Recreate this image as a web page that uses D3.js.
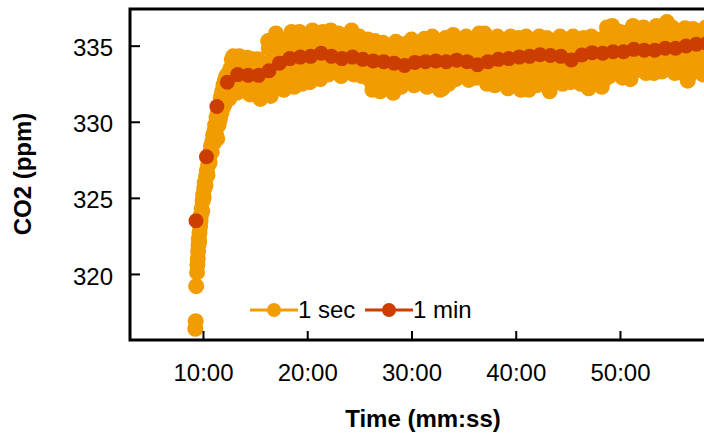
<!DOCTYPE html>
<html><head><meta charset="utf-8">
<script src="https://cdn.jsdelivr.net/npm/d3@7"></script>
<style>html,body{margin:0;padding:0;background:#fff;overflow:hidden}</style>
</head><body><svg id="c" width="704" height="436"></svg>
<script>
// ---- data ----
const seriesNames = ["1 sec", "1 min"];
const xTickLabels = ["10:00", "20:00", "30:00", "40:00", "50:00"];
const yTickValues = [320, 325, 330, 335];
const xTitle = "Time (mm:ss)";
const yTitle = "CO2 (ppm)";

// 1-second readings [seconds, ppm]
const oneSecRise = [
  [556,316.4],[558,316.9],[561,319.2],[566,320.1],[568,320.6],[570,321.0],[572,321.5],[574,321.9],
  [576,322.3],[578,322.1],[580,322.7],[583,323.1],[586,323.5],[589,323.9],[592,324.3],[595,324.1],
  [598,324.8],[601,325.2],[604,325.0],[607,325.6],[610,326.0],[614,325.8],[618,326.4],[622,326.8],
  [626,326.5],[630,327.2],[634,327.6],[638,327.3],[642,328.0],[646,328.4],[650,328.0],[654,328.7],
  [658,329.1],[662,328.6],[666,329.4],[670,329.8],[674,329.2],[678,330.3],[682,328.9],[686,330.6],
  [690,329.8],[694,331.0],[698,330.2],[702,331.6],[706,330.6],[710,332.0],[714,330.9],[718,332.4],
  [722,331.1],[726,332.7],[730,331.3],[734,333.0],[738,331.6],[742,332.3],[746,333.2],[750,331.5],
  [754,332.7],[758,333.5],[762,331.8],[766,334.1],[770,332.4],[774,334.3]
];
const oneSecPlateau = [
  [780,333.4],[795,331.9],[810,334.3],[825,332.6],
  [840,332.9],[855,334.2],[870,331.8],[885,333.6],
  [900,332.4],[915,334.1],[930,331.5],[945,333.3],
  [960,332.4],[975,335.3],[990,331.7],[1005,334.6],
  [1020,335.8],[1035,332.6],[1050,334.0],[1065,332.1],
  [1080,335.2],[1095,333.1],[1110,335.9],[1125,332.3],
  [1140,333.0],[1155,335.9],[1170,332.5],[1185,335.5],
  [1200,334.2],[1215,332.6],[1230,336.0],[1245,333.9],
  [1260,335.4],[1275,332.8],[1290,335.9],[1305,333.4],
  [1320,333.1],[1335,336.0],[1350,334.4],[1365,333.6],
  [1380,335.8],[1395,333.0],[1410,334.6],[1425,333.3],
  [1440,333.5],[1455,336.0],[1470,333.1],[1485,334.4],
  [1500,335.6],[1515,333.0],[1530,335.0],[1545,333.2],
  [1560,334.9],[1575,332.1],[1590,335.3],[1605,333.6],
  [1620,332.0],[1635,335.2],[1650,333.2],[1665,335.0],
  [1680,334.2],[1695,331.9],[1710,335.25],[1725,333.5],
  [1740,332.3],[1755,335.1],[1770,333.4],[1785,334.6],
  [1800,335.4],[1815,332.4],[1830,334.8],[1845,333.2],
  [1860,333.1],[1875,335.45],[1890,332.3],[1905,334.9],
  [1920,335.6],[1935,333.4],[1950,334.9],[1965,332.1],
  [1980,332.2],[1995,335.5],[2010,333.3],[2025,334.8],
  [2040,335.7],[2055,332.8],[2070,334.3],[2085,333.5],
  [2100,333.2],[2115,335.6],[2130,332.75],[2145,334.4],
  [2160,334.0],[2175,332.9],[2190,335.8],[2205,333.1],
  [2220,335.8],[2235,332.5],[2250,334.9],[2265,333.0],
  [2280,332.4],[2295,335.6],[2310,333.5],[2325,335.0],
  [2340,334.9],[2355,332.2],[2370,335.6],[2385,333.7],
  [2400,333.6],[2415,335.5],[2430,332.1],[2445,335.3],
  [2460,335.6],[2475,332.1],[2490,335.0],[2505,334.3],
  [2520,332.4],[2535,335.6],[2550,334.0],[2565,335.2],
  [2580,335.5],[2595,332.0],[2610,335.1],[2625,334.6],
  [2640,333.4],[2655,335.6],[2670,332.5],[2685,335.4],
  [2700,334.8],[2715,332.6],[2730,335.6],[2745,333.4],
  [2760,335.4],[2775,332.5],[2790,335.5],[2805,334.2],
  [2820,332.2],[2835,335.6],[2850,334.6],[2865,335.3],
  [2880,335.4],[2895,332.3],[2910,334.6],[2925,336.2],
  [2940,333.0],[2955,336.3],[2970,333.8],[2985,335.2],
  [3000,335.9],[3015,332.9],[3030,335.0],[3045,334.4],
  [3060,332.8],[3075,336.3],[3090,333.9],[3105,335.8],
  [3120,333.4],[3135,336.2],[3150,333.2],[3165,335.9],
  [3180,335.5],[3195,333.2],[3210,336.3],[3225,333.9],
  [3240,333.3],[3255,335.9],[3270,336.55],[3285,333.8],
  [3300,336.2],[3315,333.2],[3330,335.4],[3345,334.6],
  [3360,333.9],[3375,336.15],[3390,332.7],[3405,336.0],
  [3420,336.1],[3435,333.3],[3450,335.9],[3465,334.9],
  [3480,333.1],[3495,336.2],[3510,334.8],[3525,336.0],
  [3540,335.8],[3555,333.0],[3570,336.2],[3585,335.4]
];
const oneSecPlateauMid = [
  [787,332.6],[802,333.5],[817,333.0],[832,333.7],
  [847,333.5],[862,332.7],[877,333.3],[892,332.6],
  [907,333.4],[922,332.6],[937,333.7],[952,332.8],
  [967,333.8],[982,333.1],[997,334.0],[1012,333.0],
  [1027,334.4],[1042,333.3],[1057,334.8],[1072,333.6],
  [1087,333.5],[1102,334.6],[1117,333.9],[1132,334.9],
  [1147,334.7],[1162,333.6],[1177,334.4],[1192,333.4],
  [1207,335.0],[1222,333.7],[1237,334.6],[1252,335.1],
  [1267,333.9],[1282,334.9],[1297,333.8],[1312,335.2],
  [1327,334.8],[1342,333.7],[1357,335.1],[1372,334.9],
  [1387,334.4],[1402,335.2],[1417,333.8],[1432,334.9],
  [1447,334.8],[1462,333.9],[1477,335.0],[1492,333.7],
  [1507,334.3],[1522,334.9],[1537,333.7],[1552,334.6],
  [1567,333.4],[1582,334.5],[1597,333.0],[1612,334.3],
  [1627,333.8],[1642,334.5],[1657,332.9],[1672,334.1],
  [1687,333.0],[1702,334.3],[1717,332.8],[1732,334.6],
  [1747,334.1],[1762,332.9],[1777,334.3],[1792,333.0],
  [1807,333.6],[1822,334.4],[1837,333.0],[1852,334.3],
  [1867,334.2],[1882,333.4],[1897,334.5],[1912,333.1],
  [1927,333.0],[1942,334.4],[1957,333.7],[1972,334.7],
  [1987,334.0],[2002,333.2],[2017,334.5],[2032,333.4],
  [2047,333.6],[2062,334.7],[2077,333.2],[2092,334.5],
  [2107,334.1],[2122,333.3],[2137,334.6],[2152,333.6],
  [2167,334.5],[2182,333.4],[2197,334.2],[2212,333.2],
  [2227,333.4],[2242,334.5],[2257,333.7],[2272,334.4],
  [2287,334.5],[2302,333.5],[2317,334.2],[2332,333.3],
  [2347,333.6],[2362,334.7],[2377,333.4],[2392,334.4],
  [2407,334.5],[2422,333.6],[2437,334.6],[2452,333.4],
  [2467,333.9],[2482,334.8],[2497,333.3],[2512,334.6],
  [2527,334.8],[2542,333.5],[2557,334.9],[2572,333.4],
  [2587,333.7],[2602,334.6],[2617,333.3],[2632,334.9],
  [2647,334.7],[2662,333.6],[2677,334.5],[2692,333.3],
  [2707,333.5],[2722,334.6],[2737,333.7],[2752,334.4],
  [2767,334.7],[2782,333.6],[2797,334.9],[2812,333.5],
  [2827,333.9],[2842,334.9],[2857,333.4],[2872,334.7],
  [2887,334.2],[2902,333.4],[2917,335.0],[2932,333.8],
  [2947,334.9],[2962,333.9],[2977,335.1],[2992,333.7],
  [3007,334.0],[3022,335.2],[3037,333.6],[3052,335.0],
  [3067,334.6],[3082,333.9],[3097,335.3],[3112,334.1],
  [3127,335.0],[3142,334.0],[3157,334.8],[3172,333.9],
  [3187,334.2],[3202,335.2],[3217,334.0],[3232,335.3],
  [3247,334.8],[3262,334.1],[3277,335.4],[3292,334.3],
  [3307,334.5],[3322,335.4],[3337,333.9],[3352,335.1],
  [3367,334.4],[3382,335.3],[3397,334.2],[3412,335.5],
  [3427,334.6],[3442,335.5],[3457,333.9],[3472,335.2],
  [3487,334.9],[3502,335.6],[3517,334.1],[3532,335.4],
  [3547,334.6],[3562,335.5],[3577,334.2],[3592,335.7]
];
const oneSecPlateauEdge = [
  [784,332.4],[799,333.9],[814,332.2],[829,334.0],
  [844,332.3],[859,333.8],[874,332.4],[889,334.1],
  [904,332.0],[919,333.9],[934,331.9],[949,333.7],
  [964,332.1],[979,334.8],[994,332.3],[1009,335.3],
  [1024,332.6],[1039,335.4],[1054,332.5],[1069,335.2],
  [1084,332.8],[1099,335.5],[1114,332.7],[1129,335.3],
  [1144,332.9],[1159,335.4],[1174,333.1],[1189,335.7],
  [1204,333.1],[1219,335.6],[1234,333.0],[1249,335.5],
  [1264,333.3],[1279,335.6],[1294,333.2],[1309,335.5],
  [1324,333.5],[1339,335.6],[1354,333.3],[1369,335.7],
  [1384,333.4],[1399,335.5],[1414,333.6],[1429,335.4],
  [1444,333.4],[1459,335.6],[1474,333.6],[1489,335.5],
  [1504,333.5],[1519,335.3],[1534,333.3],[1549,335.4],
  [1564,332.7],[1579,334.9],[1594,332.5],[1609,334.8],
  [1624,332.4],[1639,334.8],[1654,332.6],[1669,334.7],
  [1684,332.5],[1699,334.9],[1714,332.3],[1729,334.8],
  [1744,332.7],[1759,334.9],[1774,332.9],[1789,335.0],
  [1804,332.8],[1819,335.0],[1834,332.9],[1849,334.9],
  [1864,332.7],[1879,335.1],[1894,332.9],[1909,335.0],
  [1924,332.6],[1939,335.2],[1954,332.5],[1969,335.1],
  [1984,332.7],[1999,335.1],[2014,332.5],[2029,335.3],
  [2044,333.2],[2059,335.3],[2074,333.0],[2089,335.2],
  [2104,333.1],[2119,335.2],[2134,333.3],[2149,335.3],
  [2164,333.3],[2179,335.4],[2194,333.1],[2209,335.3],
  [2224,332.9],[2239,335.4],[2254,333.1],[2269,335.2],
  [2284,332.8],[2299,335.2],[2314,332.9],[2329,335.3],
  [2344,332.6],[2359,335.2],[2374,332.8],[2389,335.1],
  [2404,332.6],[2419,335.2],[2434,332.5],[2449,335.0],
  [2464,332.5],[2479,335.2],[2494,332.7],[2509,335.1],
  [2524,332.5],[2539,335.1],[2554,332.6],[2569,335.3],
  [2584,332.4],[2599,335.2],[2614,332.6],[2629,335.1],
  [2644,332.9],[2659,335.2],[2674,333.0],[2689,335.1],
  [2704,332.9],[2719,335.2],[2734,333.1],[2749,335.3],
  [2764,332.9],[2779,335.2],[2794,333.0],[2809,335.1],
  [2824,332.6],[2839,335.2],[2854,332.8],[2869,335.2],
  [2884,332.6],[2899,335.3],[2914,332.8],[2929,335.8],
  [2944,333.3],[2959,335.9],[2974,333.4],[2989,335.8],
  [3004,333.3],[3019,335.8],[3034,333.5],[3049,335.9],
  [3064,333.2],[3079,335.8],[3094,333.4],[3109,335.9],
  [3124,333.6],[3139,335.8],[3154,333.7],[3169,335.7],
  [3184,333.6],[3199,335.9],[3214,333.7],[3229,335.8],
  [3244,333.6],[3259,335.9],[3274,333.8],[3289,336.0],
  [3304,333.6],[3319,335.8],[3334,333.7],[3349,335.8],
  [3364,333.2],[3379,335.7],[3394,333.4],[3409,335.8],
  [3424,333.3],[3439,335.7],[3454,333.4],[3469,335.8],
  [3484,333.4],[3499,335.8],[3514,333.6],[3529,335.7],
  [3544,333.4],[3559,335.8],[3574,333.6],[3589,335.7]
];

// 1-minute averages
const oneMinTimes = ["9:20","10:20","11:20","12:20","13:20","14:20","15:20","16:20","17:20","18:20",
  "19:20","20:20","21:20","22:20","23:20","24:20","25:20","26:20","27:20","28:20",
  "29:20","30:20","31:20","32:20","33:20","34:20","35:20","36:20","37:20","38:20",
  "39:20","40:20","41:20","42:20","43:20","44:20","45:20","46:20","47:20","48:20",
  "49:20","50:20","51:20","52:20","53:20","54:20","55:20","56:20","57:20","58:20","59:20"];
const oneMinValues = [323.5,327.7,331.0,332.6,333.1,333.05,333.05,333.35,333.85,334.15,
  334.25,334.3,334.5,334.3,334.15,334.25,334.1,334.0,333.95,333.85,
  333.7,333.9,333.95,334.0,333.95,334.05,333.95,333.75,333.95,334.1,
  334.15,334.25,334.3,334.4,334.35,334.3,334.06,334.39,334.54,334.5,
  334.6,334.6,334.76,334.7,334.7,334.83,334.83,334.98,335.1,335.15,335.2];

// ---- drawing ----
const colors = ["#F19C00", "#CC3D00"];
const font = "'Liberation Sans', Arial, sans-serif";
const toSec = s => { const p = s.split(":").map(Number); return p[0] * 60 + p[1]; };
const secData = oneSecRise.concat(oneSecPlateau, oneSecPlateauMid, oneSecPlateauEdge)
  .sort((a, b) => a[0] - b[0]);
const minData = oneMinTimes.map((t, i) => [toSec(t), oneMinValues[i]]);

const svg = d3.select("#c");
const x = d3.scaleLinear().domain([180, 3780]).range([130, 755.5]);
const y = d3.scaleLinear().domain([315.66, 337.41]).range([340, 9]);

// series
svg.append("g").selectAll("circle").data(secData).join("circle")
  .attr("cx", d => x(d[0])).attr("cy", d => y(d[1])).attr("r", 8).attr("fill", colors[0]);
svg.append("g").selectAll("circle").data(minData).join("circle")
  .attr("cx", d => x(d[0])).attr("cy", d => y(d[1])).attr("r", 7.5).attr("fill", colors[1]);

// axes
const yAxis = svg.append("g").attr("transform", "translate(130,0)")
  .call(d3.axisLeft(y).tickValues(yTickValues).tickSizeInner(-10).tickSizeOuter(0).tickPadding(17));
yAxis.select(".domain").remove();
yAxis.selectAll("line").attr("stroke", "#000").attr("stroke-width", 2);
yAxis.selectAll("text").attr("font-family", font).attr("font-size", 24).attr("fill", "#000").attr("dy", "0.42em");

const xAxis = svg.append("g").attr("transform", "translate(0,340)")
  .call(d3.axisBottom(x).tickValues(xTickLabels.map(toSec))
    .tickFormat((d, i) => xTickLabels[i]).tickSizeInner(-9).tickSizeOuter(0).tickPadding(24));
xAxis.select(".domain").remove();
xAxis.selectAll("line").attr("stroke", "#000").attr("stroke-width", 2);
xAxis.selectAll("text").attr("font-family", font).attr("font-size", 24).attr("fill", "#000");

// frame
svg.append("rect").attr("x", x.range()[0]).attr("y", y.range()[1])
  .attr("width", x.range()[1] - x.range()[0]).attr("height", y.range()[0] - y.range()[1])
  .attr("fill", "none").attr("stroke", "#000").attr("stroke-width", 3);

// titles
svg.append("text").attr("x", 423).attr("y", 427).attr("text-anchor", "middle")
  .attr("font-family", font).attr("font-size", 24).attr("font-weight", "bold").text(xTitle);
svg.append("text").attr("transform", "translate(31,174) rotate(-90)").attr("text-anchor", "middle")
  .attr("font-family", font).attr("font-size", 24).attr("font-weight", "bold").text(yTitle);

// legend
const legendX = [250, 365];
const lg = svg.append("g");
seriesNames.forEach((name, i) => {
  const g = lg.append("g").attr("transform", `translate(${legendX[i]},310)`);
  g.append("line").attr("x1", 0).attr("x2", 48).attr("stroke", colors[i]).attr("stroke-width", 3);
  g.append("circle").attr("cx", 24).attr("r", 7).attr("fill", colors[i]);
  g.append("text").attr("x", 48).attr("y", 8).attr("font-family", font).attr("font-size", 24)
    .attr("fill", "#000").text(name);
});
</script></body></html>
